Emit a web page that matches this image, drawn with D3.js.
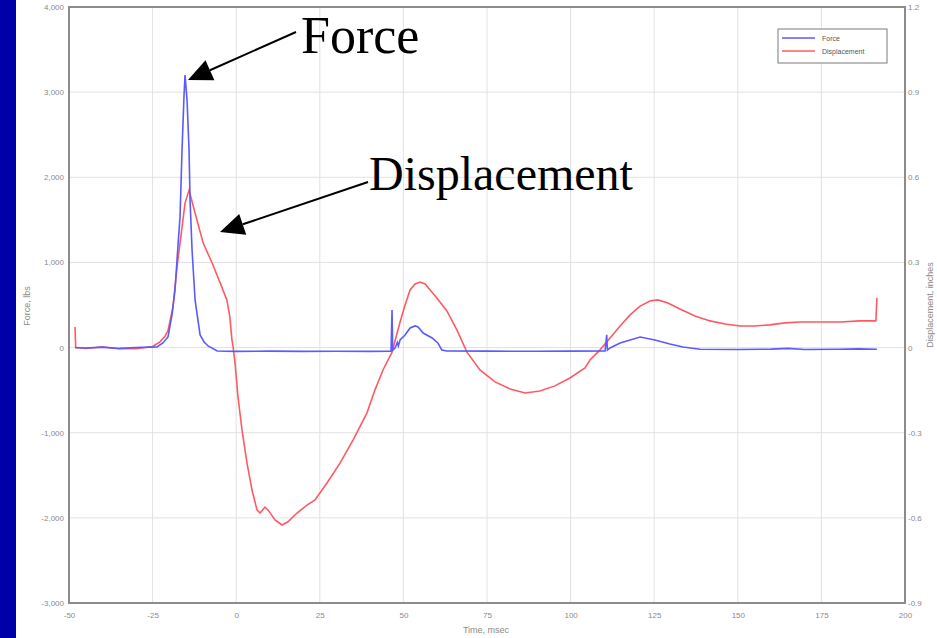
<!DOCTYPE html>
<html><head><meta charset="utf-8">
<script src="https://cdn.jsdelivr.net/npm/d3@7"></script>
<style>
html,body{margin:0;padding:0;background:#fff;overflow:hidden}
</style></head>
<body>
<svg id="chart" width="937" height="638"></svg>
<script>
// ---- data ----
const timeTicks = [-50,-25,0,25,50,75,100,125,150,175,200];
const timeTickLabels = ["-50","-25","0","25","50","75","100","125","150","175","200"];
const forceTicks = [4000,3000,2000,1000,0,-1000,-2000,-3000];
const forceTickLabels = ["4,000","3,000","2,000","1,000","0","-1,000","-2,000","-3,000"];
const dispTicks = [1.2,0.9,0.6,0.3,0,-0.3,-0.6,-0.9];
const dispTickLabels = ["1.2","0.9","0.6","0.3","0","-0.3","-0.6","-0.9"];

const forceTime = [-48.2,-45,-40,-35,-30,-26,-23.7,-21.9,-20.4,-19.2,-18.3,-17.4,-16.8,-16.2,-15.6,-15.3,-14.7,-14.1,-13.8,-13.2,-12.3,-10.8,-9.6,-8.4,-5.7,0,10,20,30,40,46.3,46.6,46.8,47.5,48.2,48.5,49.0,50.5,52.0,53.5,54.4,55.9,58.6,60.3,61.5,63,75,90,100,110.3,110.8,111.0,111.8,114.8,117.8,120.8,125.2,129.7,133.6,138.7,150,160,165,170,180,186,191.6];
const forceVals = [0,-5,5,-10,0,5,7,54,124,383,677,1203,1532,2319,2965,3200,2907,2319,1734,1146,559,148,66,19,-40,-45,-42,-45,-43,-45,-42,440,-30,-5,60,20,89,148,230,254,242,171,113,54,-28,-40,-42,-44,-42,-40,150,-30,-5,54,89,124,89,42,7,-20,-22,-18,-10,-22,-20,-15,-20];

const dispTime = [-48.2,-48.0,-45,-40,-35,-30,-27,-25,-24.3,-22.8,-21.3,-20.4,-18.9,-17.7,-16.2,-15.3,-14.1,-12.3,-9.9,-7.2,-4.8,-2.8,-1.9,-1.3,-0.9,-0.36,0.54,1.73,3.23,4.73,6.22,7.12,8.61,9.51,11.6,13.7,15.49,18.18,21.17,23.56,27.15,31.04,34.93,39.11,41.5,43.9,46.6,49.0,50.5,52.0,53.5,55.0,56.5,58.0,60.0,63.0,66.0,69.0,72.9,77.4,81.9,86.4,90.8,95.3,99.8,104.3,105.8,108.8,111.8,114.8,117.8,120.8,123.7,126.1,129.1,132.7,137.2,141.7,146.2,150.7,155.1,159.6,164.1,168.6,174.6,180.6,186.5,191.3,191.6];
const dispVals = [0.073,0.0,-0.003,0.002,-0.004,-0.004,0.0,0.004,0.009,0.02,0.04,0.06,0.143,0.283,0.424,0.509,0.555,0.474,0.369,0.298,0.228,0.168,0.108,0.03,0.0,-0.054,-0.174,-0.290,-0.407,-0.502,-0.572,-0.583,-0.562,-0.572,-0.607,-0.625,-0.614,-0.583,-0.555,-0.537,-0.477,-0.407,-0.326,-0.230,-0.149,-0.079,-0.016,0.090,0.150,0.203,0.224,0.231,0.224,0.203,0.175,0.129,0.062,-0.016,-0.079,-0.121,-0.146,-0.160,-0.153,-0.135,-0.107,-0.072,-0.044,-0.008,0.034,0.076,0.115,0.146,0.164,0.168,0.157,0.136,0.111,0.094,0.083,0.076,0.076,0.080,0.087,0.090,0.090,0.090,0.094,0.094,0.175];

const seriesNames = ["Force","Displacement"];
const seriesColors = ["#5a5aff","#ff5a64"];

// ---- layout ----
const SANS = "'Liberation Sans', Arial, sans-serif";
const SERIF = "'Liberation Serif', 'Times New Roman', serif";
const svg = d3.select("#chart");
const L = 69, R = 905, T = 7, B = 603;
const x = d3.scaleLinear().domain([-50,200]).range([L,R]);
const yF = d3.scaleLinear().domain([-3000,4000]).range([B,T]);
const yD = d3.scaleLinear().domain([-0.9,1.2]).range([B,T]);

svg.append("rect").attr("x",0).attr("y",0).attr("width",16).attr("height",638).attr("fill","#0000a8");

// gridlines
const grid = svg.append("g").attr("stroke","#e2e2e2").attr("stroke-width",1);
timeTicks.forEach(t=>grid.append("line").attr("x1",x(t)).attr("x2",x(t)).attr("y1",T).attr("y2",B));
forceTicks.forEach(v=>grid.append("line").attr("x1",L).attr("x2",R).attr("y1",yF(v)).attr("y2",yF(v)));

// axes (labels via d3 axis)
const axL = d3.axisLeft(yF).tickValues(forceTicks).tickFormat((d,i)=>forceTickLabels[i]).tickSize(0).tickPadding(5);
const axR = d3.axisRight(yD).tickValues(dispTicks).tickFormat((d,i)=>dispTickLabels[i]).tickSize(0).tickPadding(3);
const axB = d3.axisBottom(x).tickValues(timeTicks).tickFormat((d,i)=>timeTickLabels[i]).tickSize(0).tickPadding(9);
function style(g){g.select(".domain").remove();g.selectAll("text").attr("fill","#8a8a8a").style("font-size","8px").style("font-family",SANS);}
svg.append("g").attr("transform",`translate(${L},0)`).call(axL).call(style);
svg.append("g").attr("transform",`translate(${R},0)`).call(axR).call(style);
svg.append("g").attr("transform",`translate(0,${B})`).call(axB).call(style);

// frame
svg.append("rect").attr("x",L).attr("y",T).attr("width",R-L).attr("height",B-T).attr("fill","none").attr("stroke","#8c8c8c").attr("stroke-width",2);

// lines
const fData = forceTime.map((t,i)=>[t,forceVals[i]]);
const dData = dispTime.map((t,i)=>[t,dispVals[i]]);
svg.append("path").datum(dData).attr("fill","none").attr("stroke",seriesColors[1]).attr("stroke-width",1.6)
  .attr("d",d3.line().x(d=>x(d[0])).y(d=>yD(d[1])));
svg.append("path").datum(fData).attr("fill","none").attr("stroke",seriesColors[0]).attr("stroke-width",1.6)
  .attr("d",d3.line().x(d=>x(d[0])).y(d=>yF(d[1])));

// axis titles
function label(sel){return sel.style("font-family",SANS).style("font-size","9px").attr("fill","#8a8a8a");}
label(svg.append("text").attr("transform","translate(30,306) rotate(-90)").attr("text-anchor","middle")).text("Force, lbs");
label(svg.append("text").attr("transform","translate(933,305) rotate(-90)").attr("text-anchor","middle")).text("Displacement, inches");
label(svg.append("text").attr("x",486).attr("y",633).attr("text-anchor","middle")).text("Time, msec");

// legend
const lg = svg.append("g");
lg.append("rect").attr("x",778).attr("y",29).attr("width",109).attr("height",34).attr("fill","#fff").attr("stroke","#7a7a7a").attr("stroke-width",1);
seriesNames.forEach((n,i)=>{
  const yy = 38 + i*13;
  lg.append("line").attr("x1",782).attr("x2",815).attr("y1",yy).attr("y2",yy).attr("stroke",seriesColors[i]).attr("stroke-width",1.3);
  lg.append("text").attr("x",822).attr("y",yy+2.5).style("font-size","7px").style("font-family",SANS).attr("fill","#555").text(n);
});

// annotations
function arrow(x1,y1,x2,y2){
  const a = Math.atan2(y2-y1,x2-x1), len=24, w=11;
  const bx = x2-len*Math.cos(a), by = y2-len*Math.sin(a);
  svg.append("line").attr("x1",x1).attr("y1",y1).attr("x2",bx).attr("y2",by).attr("stroke","#000").attr("stroke-width",2);
  const px = -Math.sin(a), py = Math.cos(a);
  svg.append("polygon").attr("points",[[x2,y2],[bx+px*w,by+py*w],[bx-px*w,by-py*w]].map(p=>p.join(",")).join(" ")).attr("fill","#000");
}
arrow(296,32,188,80);
arrow(368,182,220,232);
svg.append("text").attr("x",301).attr("y",53).style("font-family",SERIF).style("font-size","52px").attr("fill","#000").text("Force");
svg.append("text").attr("x",369).attr("y",190).style("font-family",SERIF).style("font-size","48px").attr("fill","#000").text("Displacement");
</script>
</body></html>
